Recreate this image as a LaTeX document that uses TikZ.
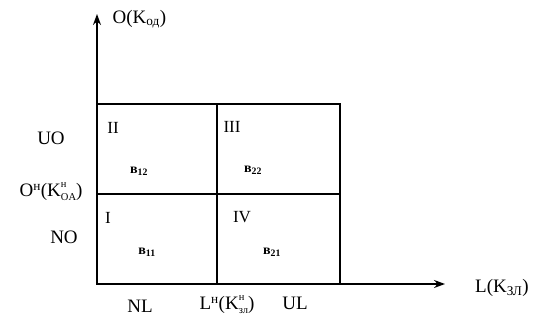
\documentclass[tikz,border=0pt]{standalone}
\usepackage{fontspec}
\setmainfont{Liberation Serif}
\usetikzlibrary{arrows.meta}
% index pair set one over the other
\newcommand{\supsub}[2]{{\fontsize{10.5}{11}\selectfont\rlap{\raisebox{8.5pt}{#1}}\raisebox{-4.5pt}{#2}}}

\begin{document}
\begin{tikzpicture}[x=1pt, y=1pt, line width=1.3pt,
        lbl/.style={font=\fontsize{19}{21}\selectfont, inner sep=0pt},
        zone/.style={font=\fontsize{17}{19}\selectfont, inner sep=0pt},
        cell/.style={font=\fontsize{14}{16}\selectfont\bfseries, inner sep=0pt}]
        \useasboundingbox (0, 0) rectangle (541, 323);
        % axes
        \draw [-{Stealth[length=11pt, width=8pt]}] (97, 39) -- (97, 309);
        \draw [-{Stealth[length=11pt, width=8pt]}] (97, 39) -- (445, 39);
        % the four zones
        \draw (97, 39) rectangle (340, 219);
        \draw (217, 39) -- (217, 219);
        \draw (97, 129) -- (340, 129);
        % axis labels
        \node [lbl, anchor=west] (oax) at (112, 304) {O(K\textsubscript{од})};
        \node [lbl] (lax) at (502, 35) {L(K\textsubscript{ЗЛ})};
        \node [lbl] (uo) at (51, 185) {UO};
        \node [lbl] (on) at (51, 131) {O\textsuperscript{н}(K\supsub{н}{OA})};
        \node [lbl] (no) at (64, 86) {NO};
        \node [lbl] (nl) at (140, 17) {NL};
        \node [lbl] (ln) at (227, 18) {L\textsuperscript{н}(K\supsub{н}{зл})};
        \node [lbl] (ul) at (295, 20) {UL};
        % zone numbers
        \node [zone] (z1) at (108, 105) {I};
        \node [zone] (z2) at (113, 195) {II};
        \node [zone] (z3) at (232, 196) {III};
        \node [zone] (z4) at (242, 106) {IV};
        % cell marks
        \node [cell] (b12) at (139, 152) {в\textsubscript{12}};
        \node [cell] (b22) at (253, 153) {в\textsubscript{22}};
        \node [cell] (b11) at (147, 71) {в\textsubscript{11}};
        \node [cell] (b21) at (272, 71) {в\textsubscript{21}};
    \end{tikzpicture}
\end{document}
